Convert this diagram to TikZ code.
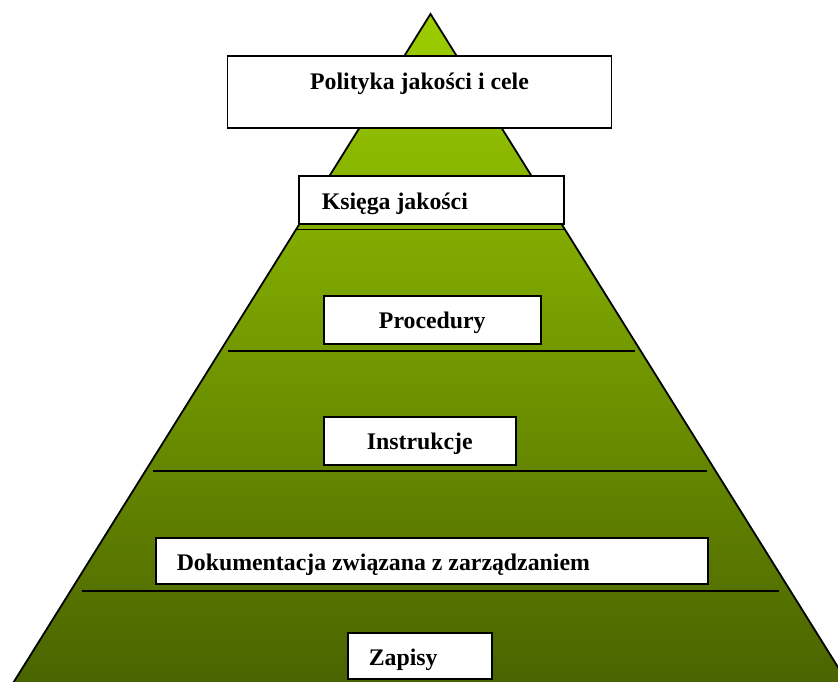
\documentclass[tikz,border=0pt]{standalone}
\usepackage{fontspec}
\setmainfont{Liberation Serif}
\definecolor{pyrtop}{RGB}{156,206,0}
\definecolor{pyrbottom}{RGB}{74,100,0}
\begin{document}
\begin{tikzpicture}[x=1pt,y=-1pt,
  level/.style={draw=black, line width=1.6pt, fill=white, inner sep=0pt,
    anchor=north west, font=\fontsize{23.8}{28}\selectfont\bfseries},
  divider/.style={draw=black, line width=1.8pt},
  outline/.style={draw=black, line width=1.8pt, line join=miter}]
\useasboundingbox (0,0) rectangle (838,682);
% pyramid body with its vertical gradient
\begin{scope}
  \clip (0,0) rectangle (838,682);
  \coordinate (apex) at (430.5,14);
  \coordinate (baseL) at (12.5,684);
  \coordinate (baseR) at (848.5,684);
  \shade[top color=pyrtop, bottom color=pyrbottom] (apex) -- (baseR) -- (baseL) -- cycle;
  \draw[outline] (baseL) -- (apex) -- (baseR);
\end{scope}
% level dividers
\coordinate (d1l) at (296,229.5);  \coordinate (d1r) at (565,229.5);
\coordinate (d2l) at (228,351);    \coordinate (d2r) at (635,351);
\coordinate (d3l) at (153,471);    \coordinate (d3r) at (707,471);
\coordinate (d4l) at (82,591);     \coordinate (d4r) at (779,591);
\draw[divider] (d1l) -- (d1r);
\draw[divider] (d2l) -- (d2r);
\draw[divider] (d3l) -- (d3r);
\draw[divider] (d4l) -- (d4r);
% level labels
\node[level, minimum width=384pt, text height=34pt, text depth=38pt] (polityka) at (226.7,55) {Polityka jakości i cele};
\node[level, inner xsep=23pt, text height=34pt, text depth=14pt] (ksiega) at (298,175) {\makebox[219pt][l]{Księga jakości}};
\node[level, minimum width=217pt, text height=33pt, text depth=15pt] (procedury) at (323,295) {Procedury};
\node[level, minimum width=192pt, text height=33pt, text depth=15pt] (instrukcje) at (323,416) {Instrukcje};
\node[level, inner xsep=21pt, text height=33pt, text depth=13pt] (dokumentacja) at (155,537) {\makebox[510pt][l]{Dokumentacja związana z zarządzaniem}};
\node[level, inner xsep=21pt, text height=33pt, text depth=13pt] (zapisy) at (347,632) {\makebox[102pt][l]{Zapisy}};
\end{tikzpicture}
\end{document}
